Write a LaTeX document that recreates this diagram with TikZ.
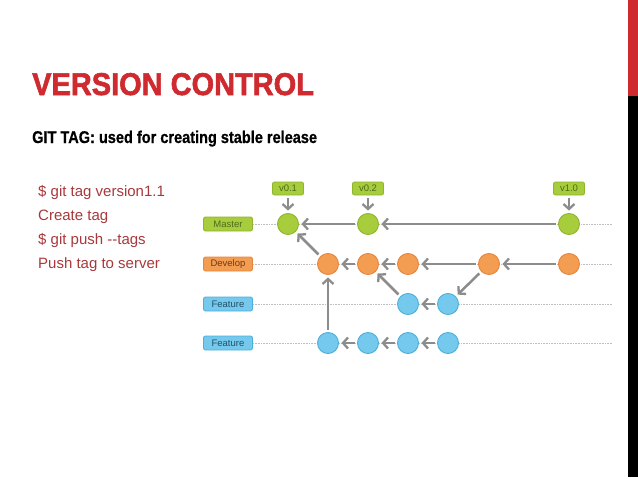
\documentclass[tikz,border=0pt]{standalone}
\usepackage{fontspec}
\setmainfont{Liberation Sans}
\newfontfamily\heavyface{Liberation Sans Bold}[FakeBold=2]
\newfontfamily\boldface{Liberation Sans Bold}[FakeBold=0.8]
\usepackage{graphicx}
\usetikzlibrary{arrows.meta,positioning,calc}
\newcommand{\titlefont}{\heavyface\fontsize{31.5}{32}\selectfont}
\newcommand{\subtitlefont}{\boldface\fontsize{17}{18}\selectfont}
\definecolor{slideRed}{HTML}{CE2A30}
\definecolor{cmdRed}{HTML}{A8383B}
\definecolor{gitGreen}{HTML}{A7CD3C}
\definecolor{gitGreenDk}{HTML}{8DB62C}
\definecolor{gitGreenTxt}{HTML}{4E6B1E}
\definecolor{gitOrange}{HTML}{F39D52}
\definecolor{gitOrangeDk}{HTML}{E8853D}
\definecolor{gitOrangeTxt}{HTML}{6E3A16}
\definecolor{gitBlue}{HTML}{74C9EC}
\definecolor{gitBlueDk}{HTML}{4DAFDC}
\definecolor{gitBlueTxt}{HTML}{24506A}
\definecolor{gitArrow}{HTML}{8C8C8C}
\tikzset{
  commit/.style={circle,fill=#1,draw=#1Dk,line width=0.9pt,minimum size=21pt,inner sep=0pt},
  branch/.style={rounded corners=2pt,fill=#1,draw=#1Dk,text=#1Txt,line width=0.8pt,
    minimum width=49pt,minimum height=14pt,inner sep=0pt,font=\fontsize{9.5}{10}\selectfont},
  tagbox/.style={branch=gitGreen,minimum width=31pt,minimum height=13pt},
  gitarrow/.style={draw=gitArrow,line width=2.5pt,shorten >=2.5pt,shorten <=2.5pt,
    -{Straight Barb[length=5pt,width=11pt,line width=2.3pt]}},
  lane/.style={draw=black!25,densely dotted,line width=0.6pt},
  cmdtext/.style={anchor=base west,inner sep=0pt,text=cmdRed,font=\fontsize{15}{16}\selectfont}
}

\begin{document}
\begin{tikzpicture}[x=1pt,y=-1pt]
  \useasboundingbox (0,0) rectangle (638,479);
  % slide edge
  \fill[slideRed] (628,0) rectangle (638,96);
  \fill[black] (628,96) rectangle (638,477);

  % headings
  \node[anchor=base west,inner sep=0pt,text=slideRed] (title) at (32,95)
    {\scalebox{0.92}[1]{\titlefont VERSION CONTROL}};
  \node[anchor=base west,inner sep=0pt] (subtitle) at (32,143)
    {\scalebox{0.855}[1]{\subtitlefont GIT TAG: used for creating stable release}};
  \foreach \txt [count=\i] in {{\$ git tag version1.1},{Create tag},{\$ git push -{}-tags},{Push tag to server}}
    \node[cmdtext] (cmd\i) at (38,{172+24*\i}) {\txt};

  % branches and lanes
  \coordinate (laneEnd) at (612,0);
  \node[branch=gitGreen] (master) at (228,224) {Master};
  \node[branch=gitOrange] (develop) at (228,264) {Develop};
  \node[branch=gitBlue] (featureA) at (228,304) {Feature};
  \node[branch=gitBlue] (featureB) at (228,343) {Feature};
  \foreach \b in {master,develop,featureA,featureB}
    \draw[lane] (\b.east) -- (\b.east -| laneEnd);

  % commits
  \node[commit=gitGreen] (m1) at (288,224) {};
  \node[commit=gitGreen] (m2) at (368,224) {};
  \node[commit=gitGreen] (m3) at (569,224) {};
  \node[commit=gitOrange] (d1) at (328,264) {};
  \node[commit=gitOrange] (d2) at (368,264) {};
  \node[commit=gitOrange] (d3) at (408,264) {};
  \node[commit=gitOrange] (d4) at (489,264) {};
  \node[commit=gitOrange] (d5) at (569,264) {};
  \node[commit=gitBlue] (fa1) at (408,304) {};
  \node[commit=gitBlue] (fa2) at (448,304) {};
  \node[commit=gitBlue] (fb1) at (328,343) {};
  \node[commit=gitBlue] (fb2) at (368,343) {};
  \node[commit=gitBlue] (fb3) at (408,343) {};
  \node[commit=gitBlue] (fb4) at (448,343) {};

  % tags
  \node[tagbox] (v01) at (288,188.5) {v0.1};
  \node[tagbox] (v02) at (368,188.5) {v0.2};
  \node[tagbox] (v10) at (569,188.5) {v1.0};

  \foreach \a/\b in {v01/m1,v02/m2,v10/m3,m2/m1,m3/m2,d1/m1,d2/d1,d3/d2,d4/d3,d5/d4,
      fa1/d2,d4/fa2,fa2/fa1,fb2/fb1,fb3/fb2,fb4/fb3,fb1/d1}
    \draw[gitarrow] (\a) -- (\b);
\end{tikzpicture}
\end{document}
